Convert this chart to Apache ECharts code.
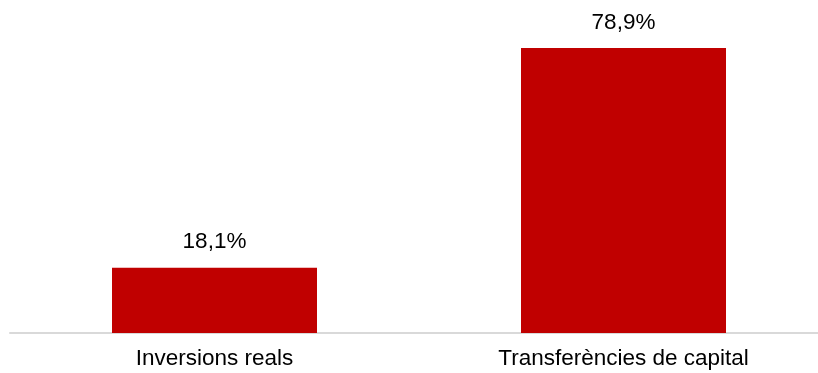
<!DOCTYPE html>
<html>
<head>
<meta charset="utf-8">
<script src="https://cdn.jsdelivr.net/npm/echarts@6/dist/echarts.min.js"></script>
<style>html,body{margin:0;padding:0;background:#fff;overflow:hidden;width:818px;height:373px}#c{width:828px;height:373px}</style>
</head>
<body>
<div id="c"></div>
<script>
const categories = ['Inversions reals', 'Transferències de capital'];
const values = [18.1, 78.9];

const chart = echarts.init(document.getElementById('c'), null, {renderer: 'canvas'});
chart.setOption({
  animation: false,
  grid: {left: 10, right: 0, top: 8, bottom: 40},
  xAxis: {
    type: 'category',
    data: categories,
    axisLine: {lineStyle: {color: '#d9d9d9', width: 2}},
    axisTick: {show: false},
    axisLabel: {color: '#000', fontSize: 22.5, fontFamily: 'Liberation Sans, Arial, sans-serif', margin: 14}
  },
  yAxis: {
    type: 'value', min: 0, max: 90, show: false,
    splitLine: {show: false}
  },
  series: [{
    type: 'bar',
    data: values,
    barWidth: 205,
    itemStyle: {color: '#c00000'},
    label: {
      show: true, position: 'top', distance: 14,
      color: '#000', fontSize: 22.5, fontFamily: 'Liberation Sans, Arial, sans-serif',
      formatter: p => p.value.toFixed(1).replace('.', ',') + '%'
    }
  }]
});
</script>
</body>
</html>
